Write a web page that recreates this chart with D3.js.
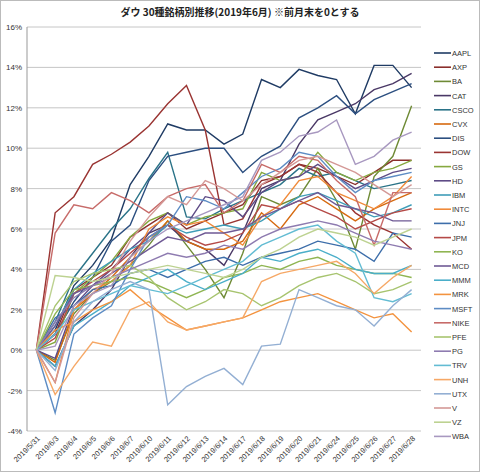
<!DOCTYPE html><html><head><meta charset="utf-8"><script src="https://cdn.jsdelivr.net/npm/d3@7"></script>
<style>body{margin:0;background:#fff}svg{font-family:"Liberation Sans",Arial,sans-serif}</style></head><body><svg id="c" width="480" height="472"></svg>
<script>
const dates=["2019/5/31","2019/6/3","2019/6/4","2019/6/5","2019/6/6","2019/6/7","2019/6/10","2019/6/11","2019/6/12","2019/6/13","2019/6/14","2019/6/17","2019/6/18","2019/6/19","2019/6/20","2019/6/21","2019/6/24","2019/6/25","2019/6/26","2019/6/27","2019/6/28"];
const tickLabels=["-4%","-2%","0%","2%","4%","6%","8%","10%","12%","14%","16%"];
const names=["AAPL","AXP","BA","CAT","CSCO","CVX","DIS","DOW","GS","HD","IBM","INTC","JNJ","JPM","KO","MCD","MMM","MRK","MSFT","NIKE","PFE","PG","TRV","UNH","UTX","V","VZ","WBA"];
const colors=["#1f3b64","#8b2f2c","#6e8a35","#4a3866","#2a7388","#d66a10","#2c4f80","#9a3432","#86a83f","#5e4b86","#3f9db8","#f08a3a","#3d6eaa","#b54a47","#8fb552","#6f5a95","#4aaec9","#f3933f","#5d8cc4","#c76b69","#a7c46f","#8e7bb0","#63bcd3","#f6a866","#93afd3","#d49896","#bdd291","#a898c0"];
const AAPL=[0,1.0,3.2,4.2,5.5,8.2,9.6,11.2,10.9,10.9,10.2,10.7,13.4,13.0,13.9,13.6,13.4,11.7,14.1,14.1,13.0];
const AXP=[0,0.8,3.0,3.6,4.2,5.6,6.2,6.8,6.0,6.4,6.8,7.2,8.4,8.6,9.2,9.0,8.6,8.2,8.8,9.4,9.4];
const BA=[0,-0.5,1.8,2.8,3.4,4.2,5.2,6.4,5.2,4.0,2.6,4.8,7.6,7.2,7.6,9.0,7.4,5.0,8.6,9.6,12.1];
const CAT=[0,-0.8,1.2,2.0,3.0,4.6,5.8,6.2,5.4,5.0,4.2,5.8,8.0,8.4,10.2,11.4,11.8,12.2,12.9,13.2,13.7];
const CSCO=[0,1.4,3.6,4.8,6.0,7.0,8.5,9.8,6.6,6.5,7.0,7.4,7.8,8.2,9.0,8.6,8.8,8.4,8.0,8.2,8.4];
const CVX=[0,-0.6,2.0,2.8,3.6,4.6,5.4,6.4,5.4,5.0,5.0,5.4,6.8,6.0,7.2,7.6,7.0,6.4,7.0,7.4,7.8];
const DIS=[0,0.8,2.4,3.6,5.4,6.2,8.4,9.6,9.8,10.0,10.0,8.8,9.6,10.1,11.5,12.0,12.6,11.7,12.4,12.8,13.2];
const DOW=[0,6.8,7.6,9.2,9.7,10.3,11.1,12.2,13.1,10.9,6.2,6.5,8.2,8.6,9.2,8.8,7.8,6.8,6.2,5.8,5.0];
const GS=[0,0.4,2.8,3.6,4.4,5.6,6.4,6.8,6.2,6.6,6.8,7.0,8.8,8.4,8.6,9.8,8.8,8.4,8.8,9.0,9.4];
const HD=[0,-0.4,2.2,3.2,4.0,5.0,5.8,6.8,6.2,7.6,7.4,6.6,7.8,8.4,8.6,9.2,8.6,8.0,8.4,8.8,9.0];
const IBM=[0,1.2,3.0,3.8,4.4,5.0,5.4,6.2,5.8,6.0,6.2,6.0,6.4,7.0,7.6,7.8,7.4,7.0,6.6,6.8,7.2];
const INTC=[0,-1.6,2.0,3.0,3.4,4.2,6.0,6.6,6.2,6.4,5.8,5.2,6.6,7.2,8.4,8.6,7.8,7.4,7.0,7.6,8.6];
const JNJ=[0,1.6,2.2,3.0,3.2,3.8,4.0,3.6,4.0,4.4,4.6,4.2,4.6,4.8,5.0,5.4,5.2,5.0,4.4,5.8,5.6];
const JPM=[0,0.6,2.8,3.4,4.0,4.8,5.6,6.2,5.6,5.2,5.4,5.8,7.2,7.0,7.4,7.0,6.6,6.0,6.4,6.8,7.0];
const KO=[0,1.8,3.0,3.2,3.4,3.6,3.4,3.0,2.6,3.0,3.6,3.8,4.2,4.0,4.4,4.6,4.2,4.0,3.8,3.8,3.6];
const MCD=[0,1.2,2.8,3.2,3.8,4.4,5.0,5.6,5.4,5.8,5.8,6.0,6.6,7.0,7.4,7.8,7.2,7.0,6.8,6.4,6.4];
const MMM=[0,-0.8,1.2,1.8,2.4,3.2,3.6,4.0,3.4,3.0,3.4,3.8,4.6,4.4,4.8,5.0,4.6,4.0,3.8,3.8,4.2];
const MRK=[0,1.0,1.4,2.0,2.4,3.0,2.2,1.6,1.0,1.2,1.4,1.6,2.0,2.4,2.6,2.8,2.4,2.0,1.6,1.8,0.9];
const MSFT=[0,-3.1,0.8,1.6,2.2,4.0,5.6,6.2,7.6,7.4,7.0,7.8,8.6,9.0,9.8,9.6,8.6,7.8,8.4,8.6,8.8];
const NIKE=[0,5.8,7.2,7.0,7.8,7.4,6.8,7.6,8.0,8.2,6.8,7.4,9.2,8.8,9.6,9.4,8.4,7.6,5.2,7.8,7.8];
const PFE=[0,2.2,3.4,3.8,4.0,4.2,3.6,2.6,2.0,2.4,3.0,2.8,2.2,2.6,3.2,3.6,3.8,3.4,2.8,3.0,3.4];
const PG=[0,1.4,2.6,3.2,3.6,4.0,4.4,4.8,4.6,4.8,5.2,5.0,5.6,6.0,6.2,6.4,6.2,5.8,5.4,5.2,5.0];
const TRV=[0,0.8,2.0,2.4,2.8,3.2,3.0,2.8,3.2,3.6,4.0,4.4,5.2,5.6,6.0,6.2,5.4,4.8,2.6,2.4,2.8];
const UNH=[0,-2.2,-0.8,0.4,0.2,2.0,2.4,1.4,1.0,1.2,1.4,1.6,3.4,3.8,4.0,4.2,4.4,3.8,2.8,3.6,4.2];
const UTX=[0,-1.0,1.4,2.4,3.0,3.4,3.0,-2.7,-1.8,-1.3,-0.9,-1.7,0.2,0.3,3.0,2.6,2.2,2.0,1.2,2.2,3.0];
const V=[0,-1.6,1.6,2.8,3.8,5.4,6.6,7.6,7.2,8.4,8.0,7.4,8.2,8.8,9.4,9.6,9.2,8.8,8.2,7.6,8.2];
const VZ=[0,3.7,3.6,3.4,3.6,3.8,4.0,4.2,4.0,3.8,3.6,4.0,4.6,5.0,5.6,6.0,5.8,5.6,5.2,5.6,6.0];
const WBA=[0,0.2,2.2,2.8,3.2,4.6,5.4,6.0,6.4,6.8,7.2,7.6,9.4,9.8,10.6,10.8,11.4,9.2,9.6,10.4,10.8];
const series=[AAPL,AXP,BA,CAT,CSCO,CVX,DIS,DOW,GS,HD,IBM,INTC,JNJ,JPM,KO,MCD,MMM,MRK,MSFT,NIKE,PFE,PG,TRV,UNH,UTX,V,VZ,WBA];
const svg=d3.select("#c");
svg.append("rect").attr("x",0.5).attr("y",0.5).attr("width",479).attr("height",471).attr("fill","#fff").attr("stroke","#bbb");
const m={l:27,r:421,t:27,b:431};
const x=d3.scalePoint().domain(dates).range([m.l,m.r]).padding(0.5);
const y=d3.scaleLinear().domain([-4,16]).range([m.b,m.t]);
const ticks=tickLabels.map(t=>parseFloat(t));
svg.append("g").selectAll("line").data(ticks).join("line").attr("x1",m.l).attr("x2",m.r).attr("y1",d=>y(d)).attr("y2",d=>y(d)).attr("stroke","#b8b8b8").attr("stroke-width",0.8);
svg.append("line").attr("x1",m.l).attr("x2",m.l).attr("y1",m.t).attr("y2",m.b).attr("stroke","#999");
svg.append("g").selectAll("text").data(tickLabels).join("text").attr("x",m.l-5).attr("y",(d,i)=>y(ticks[i])+3).attr("text-anchor","end").attr("font-size",8).attr("fill","#333").text(d=>d);
svg.append("g").selectAll("text").data(dates).join("text").attr("transform",d=>`translate(${x(d)+4},${m.b+8}) rotate(-45)`).attr("text-anchor","end").attr("font-size",7.5).attr("fill","#333").text(d=>d);
const line=d3.line().x((d,i)=>x(dates[i])).y(d=>y(d));
svg.append("g").selectAll("path").data(series).join("path").attr("d",line).attr("fill","none").attr("stroke",(d,i)=>colors[i]).attr("stroke-width",1.4);
svg.append("text").attr("x",240).attr("y",16).attr("text-anchor","middle").attr("font-size",10).attr("font-weight","bold").attr("font-family","Noto Sans CJK JP").attr("fill","#222").text("ダウ 30種銘柄別推移(2019年6月) ※前月末を0とする");
const lg=svg.append("g").selectAll("g").data(names).join("g").attr("transform",(d,i)=>`translate(434,${53+i*14.2})`);
lg.append("line").attr("x1",0).attr("x2",17).attr("stroke",(d,i)=>colors[i]).attr("stroke-width",1.6);
lg.append("text").attr("x",18).attr("y",3).attr("font-size",7.5).attr("fill","#333").text(d=>d);
</script></body></html>
